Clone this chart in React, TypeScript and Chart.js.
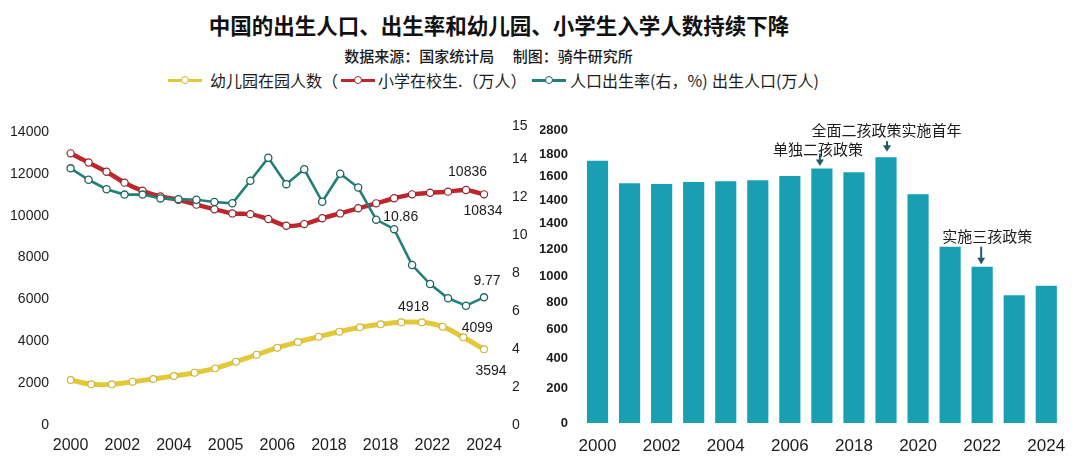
import React, { useEffect, useRef } from 'react';
import { Chart, registerables } from 'chart.js';

Chart.register(...registerables);

// ---------- text ----------
const TITLE = '中国的出生人口、出生率和幼儿园、小学生入学人数持续下降';
const SUBTITLE = '数据来源：国家统计局　 制图：骑牛研究所';
const LEGEND_LABELS = ['幼儿园在园人数（', '小学在校生.（万人）', '人口出生率(右，%)', '出生人口(万人)'];

// ---------- left panel (lines) ----------
const LINE_X_LABELS = ['2000', '2002', '2004', '2005', '2006', '2018', '2018', '2022', '2024'];
const LINE_YEARS = [
  '2001', '2002', '2003', '2004', '2005', '2006', '2007', '2008', '2009', '2010', '2011', '2012',
  '2013', '2014', '2015', '2016', '2017', '2018', '2019', '2020', '2021', '2022', '2023', '2024',
];
const KG_YEARS = [
  '2004', '2005', '2006', '2007', '2008', '2009', '2010', '2011', '2012', '2013', '2014',
  '2015', '2016', '2017', '2018', '2019', '2020', '2021', '2022', '2023', '2024',
];
const PRIMARY_STUDENTS = [
  12980, 12540, 12100, 11580, 11190, 10920, 10760, 10530, 10310, 10110, 10075, 9840,
  9520, 9600, 9880, 10110, 10354, 10590, 10832, 11020, 11100, 11150, 11230, 11020,
];
const BIRTH_RATE = [
  13.51, 12.91, 12.41, 12.13, 12.13, 11.93, 11.89, 11.86, 11.74, 11.67, 12.86, 14.07,
  12.68, 13.46, 11.75, 13.23, 12.5, 10.81, 10.31, 8.42, 7.42, 6.67, 6.28, 6.72,
];
const KINDERGARTEN = [
  2150, 1944, 1944, 2070, 2198, 2341, 2500, 2708, 3024, 3359, 3693,
  3966, 4219, 4458, 4668, 4811, 4907, 4907, 4697, 4190, 3617,
];
const LEFT_Y_TICKS = [0, 2000, 4000, 6000, 8000, 10000, 12000, 14000];
const RATE_TICK_VALUES = [0, 2, 4, 6, 8, 10, 12, 14, 15.74];
const RATE_TICK_LABELS = ['0', '2', '4', '6', '8', '10', '12', '14', '15'];
const LINE_NOTES = [
  { series: 'primary', index: 22, text: '10836', dx: 1.5, dy: -18, align: 'center' },
  { series: 'primary', index: 23, text: '10834', dx: -1, dy: 17, align: 'center' },
  { series: 'rate', index: 17, text: '10.86', dx: 7, dy: -3, align: 'left' },
  { series: 'rate', index: 23, text: '9.77', dx: 3, dy: -16, align: 'center' },
  { series: 'kg', index: 17, text: '4918', dx: -8.5, dy: -15, align: 'center' },
  { series: 'kg', index: 19, text: '4099', dx: 14, dy: -9, align: 'center' },
  { series: 'kg', index: 20, text: '3594', dx: 7, dy: 22, align: 'center' },
];

// ---------- right panel (bars) ----------
const BAR_YEARS = [
  '2000', '2001', '2002', '2003', '2004', '2005', '2006', '2017',
  '2018', '2019', '2020', '2021', '2022', '2023', '2024',
];
const BIRTHS = [1773, 1620, 1615, 1629, 1633, 1640, 1669, 1719, 1694, 1796, 1546, 1191, 1056, 863, 928];
const BAR_TICK_VALUES = [0, 237, 439, 635, 818, 993, 1176, 1352, 1507, 1669, 1818, 1980];
const BAR_TICK_LABELS = ['0', '200', '400', '600', '800', '1000', '1200', '1400', '1400', '1600', '1800', '2800'];
const BAR_NOTES = [
  { index: 7, text: '单独二孩政策', dx: -4, textDy: -19, arrowDx: -2, arrowFrom: -15, arrowTo: -2.5 },
  { index: 9, text: '全面二孩政策实施首年', dx: 0.5, textDy: -27, arrowDx: 1, arrowFrom: -16, arrowTo: -5.5 },
  { index: 12, text: '实施三孩政策', dx: 5, textDy: -30, arrowDx: -1, arrowFrom: -20, arrowTo: -2.5 },
];

// ---------- styles ----------
const YELLOW = '#e3c93a';
const YELLOW_DARK = '#cdb437';
const RED = '#c0252c';
const RED_DARK = '#8e2a2e';
const TEAL = '#22807a';
const TEAL_DARK = '#1c6661';
const BAR_COLOR = '#18a0b2';
const ARROW = '#1f5c63';
const TEXT = '#1c1c1c';
const LATIN = '"Liberation Sans", Arial, "Noto Sans CJK SC", sans-serif';
const CJK = '"Noto Sans CJK SC", "Liberation Sans", sans-serif';

Chart.defaults.font.family = LATIN;
Chart.defaults.color = TEXT;

const lineNotesPlugin = {
  id: 'lineNotes',
  afterDatasetsDraw(chart: any) {
    const ctx = chart.ctx;
    ctx.save();
    ctx.font = `14px ${LATIN}`;
    ctx.fillStyle = TEXT;
    ctx.textBaseline = 'middle';
    LINE_NOTES.forEach((n) => {
      const di = chart.data.datasets.findIndex((d: any) => d.key === n.series);
      if (di < 0) return;
      const pt = chart.getDatasetMeta(di).data[n.index];
      if (!pt) return;
      ctx.textAlign = n.align;
      ctx.fillText(n.text, pt.x + n.dx, pt.y + n.dy);
    });
    ctx.restore();
  },
};

const barNotesPlugin = {
  id: 'barNotes',
  afterDatasetsDraw(chart: any) {
    const ctx = chart.ctx;
    const meta = chart.getDatasetMeta(0);
    ctx.save();
    BAR_NOTES.forEach((n) => {
      const bar = meta.data[n.index];
      if (!bar) return;
      const x = bar.x;
      const top = bar.y;
      ctx.font = `15px ${CJK}`;
      ctx.fillStyle = TEXT;
      ctx.textAlign = 'center';
      ctx.textBaseline = 'middle';
      ctx.fillText(n.text, x + n.dx, top + n.textDy);
      const ax = x + n.arrowDx;
      const tip = top + n.arrowTo;
      ctx.strokeStyle = ARROW;
      ctx.lineWidth = 2;
      ctx.beginPath();
      ctx.moveTo(ax, top + n.arrowFrom);
      ctx.lineTo(ax, tip - 5);
      ctx.stroke();
      ctx.fillStyle = ARROW;
      ctx.beginPath();
      ctx.moveTo(ax - 4, tip - 6.5);
      ctx.lineTo(ax + 4, tip - 6.5);
      ctx.lineTo(ax, tip);
      ctx.closePath();
      ctx.fill();
    });
    ctx.restore();
  },
};

const noGrid = { display: false, drawTicks: false };
const noBorder = { display: false };

// fix an axis' thickness and stop its label padding from pushing the plot area
const fixWidth = (w: number) => (s: any) => {
  s.width = w;
  s.paddingTop = 0;
  s.paddingBottom = 0;
};

function makeLineChart(canvas: HTMLCanvasElement) {
  return new Chart(canvas, {
    type: 'line',
    data: {
      datasets: [
        {
          key: 'rate',
          label: LEGEND_LABELS[2],
          data: BIRTH_RATE,
          xAxisID: 'xLine',
          yAxisID: 'y1',
          borderColor: TEAL,
          borderWidth: 2.6,
          tension: 0,
          pointRadius: 3.6,
          pointBackgroundColor: '#ffffff',
          pointBorderColor: TEAL_DARK,
          pointBorderWidth: 1.3,
          order: 0,
        },
        {
          key: 'primary',
          label: LEGEND_LABELS[1],
          data: PRIMARY_STUDENTS,
          xAxisID: 'xLine',
          yAxisID: 'y',
          borderColor: RED,
          borderWidth: 4.5,
          tension: 0.3,
          pointRadius: 3.6,
          pointBackgroundColor: '#ffffff',
          pointBorderColor: RED_DARK,
          pointBorderWidth: 1.2,
          order: 1,
        },
        {
          key: 'kg',
          label: LEGEND_LABELS[0],
          data: KINDERGARTEN,
          xAxisID: 'xKg',
          yAxisID: 'y',
          borderColor: YELLOW,
          borderWidth: 5,
          tension: 0.4,
          pointRadius: 3.4,
          pointBackgroundColor: '#ffffff',
          pointBorderColor: YELLOW_DARK,
          pointBorderWidth: 1.1,
          order: 2,
        },
      ] as any,
    },
    options: {
      responsive: false,
      animation: false,
      layout: { padding: { top: 16, left: 0, right: 0, bottom: 0 } },
      plugins: { legend: { display: false }, tooltip: { enabled: false } },
      scales: {
        x: {
          type: 'category',
          axis: 'x',
          position: 'bottom',
          labels: LINE_X_LABELS,
          offset: false,
          grid: noGrid,
          border: noBorder,
          ticks: { autoSkip: false, maxRotation: 0, minRotation: 0, padding: 11, color: TEXT, font: { size: 16 } },
          afterFit: (s: any) => { s.height = 45; s.paddingLeft = 0; s.paddingRight = 0; },
        },
        xLine: {
          type: 'category',
          axis: 'x',
          position: 'bottom',
          labels: LINE_YEARS,
          offset: false,
          display: false,
        },
        xKg: {
          type: 'category',
          axis: 'x',
          position: 'bottom',
          labels: KG_YEARS,
          offset: false,
          display: false,
        },
        y: {
          type: 'linear',
          position: 'left',
          min: 0,
          max: 14287,
          grid: noGrid,
          border: noBorder,
          afterBuildTicks: (s: any) => { s.ticks = LEFT_Y_TICKS.map((v) => ({ value: v })); },
          ticks: {
            padding: 21.6,
            color: TEXT,
            font: { size: 14 },
            callback: (_v: any, i: number) => String(LEFT_Y_TICKS[i]),
          },
          afterFit: fixWidth(70.6),
        },
        y1: {
          type: 'linear',
          position: 'right',
          min: 0,
          max: 15.74,
          grid: noGrid,
          border: noBorder,
          afterBuildTicks: (s: any) => { s.ticks = RATE_TICK_VALUES.map((v) => ({ value: v })); },
          ticks: {
            padding: 28,
            color: TEXT,
            font: { size: 14 },
            callback: (_v: any, i: number) => RATE_TICK_LABELS[i],
          },
          afterFit: fixWidth(56),
        },
      } as any,
    },
    plugins: [lineNotesPlugin],
  } as any);
}

function makeBarChart(canvas: HTMLCanvasElement) {
  return new Chart(canvas, {
    type: 'bar',
    data: {
      labels: BAR_YEARS,
      datasets: [
        {
          label: LEGEND_LABELS[3],
          data: BIRTHS,
          backgroundColor: BAR_COLOR,
          borderWidth: 0,
          barPercentage: 0.66,
          categoryPercentage: 1,
        },
      ],
    },
    options: {
      responsive: false,
      animation: false,
      layout: { padding: { top: 20, left: 0, right: 17.7, bottom: 0 } },
      plugins: { legend: { display: false }, tooltip: { enabled: false } },
      scales: {
        x: {
          grid: noGrid,
          border: noBorder,
          ticks: {
            autoSkip: false,
            maxRotation: 0,
            minRotation: 0,
            padding: 13.5,
            color: TEXT,
            font: { size: 17 },
            callback: (_v: any, i: number) => (i % 2 === 0 ? BAR_YEARS[i] : ''),
          },
          afterFit: (s: any) => { s.height = 47; s.paddingLeft = 0; s.paddingRight = 0; },
        },
        y: {
          min: 0,
          max: 1980,
          grid: noGrid,
          border: noBorder,
          afterBuildTicks: (s: any) => { s.ticks = BAR_TICK_VALUES.map((v) => ({ value: v })); },
          ticks: {
            padding: 13.5,
            color: TEXT,
            font: { size: 13, weight: 'bold' },
            callback: (_v: any, i: number) => BAR_TICK_LABELS[i],
          },
          afterFit: fixWidth(41.5),
        },
      } as any,
    },
    plugins: [barNotesPlugin],
  } as any);
}

function LegendMarker({ left, color, border }: { left: number; color: string; border: string }) {
  return (
    <div style={{ position: 'absolute', left, top: 73, width: 34, height: 14 }}>
      <div style={{ position: 'absolute', left: 0, top: 5.5, width: 34, height: 3, background: color }} />
      <div
        style={{
          position: 'absolute', left: 12.5, top: 2.5, width: 6, height: 6,
          borderRadius: '50%', background: '#fff', border: `1.5px solid ${border}`,
        }}
      />
    </div>
  );
}

const legendText: React.CSSProperties = {
  position: 'absolute', top: 72, fontSize: 16, lineHeight: '16px', whiteSpace: 'nowrap', color: TEXT,
};

export default function App() {
  const leftRef = useRef<HTMLCanvasElement>(null);
  const rightRef = useRef<HTMLCanvasElement>(null);

  useEffect(() => {
    const left = makeLineChart(leftRef.current!);
    const right = makeBarChart(rightRef.current!);
    return () => {
      left.destroy();
      right.destroy();
    };
  }, []);

  return (
    <div
      style={{
        position: 'absolute', left: 0, top: 0, width: 1080, height: 475,
        background: '#ffffff', overflow: 'hidden', fontFamily: CJK, color: TEXT,
      }}
    >
      <div
        style={{
          position: 'absolute', left: 499, top: 14, transform: 'translateX(-50%)',
          fontSize: 21.5, lineHeight: '22px', fontWeight: 700, whiteSpace: 'nowrap', color: '#111',
        }}
      >
        {TITLE}
      </div>
      <div
        style={{
          position: 'absolute', left: 488.5, top: 47.5, transform: 'translateX(-50%)',
          fontSize: 15, lineHeight: '15px', fontWeight: 500, whiteSpace: 'nowrap',
        }}
      >
        {SUBTITLE}
      </div>
      <LegendMarker left={168} color={YELLOW} border={YELLOW_DARK} />
      <div style={{ ...legendText, left: 210 }}>{LEGEND_LABELS[0]}</div>
      <LegendMarker left={341} color={RED} border={RED_DARK} />
      <div style={{ ...legendText, left: 378 }}>{LEGEND_LABELS[1]}</div>
      <LegendMarker left={532} color={TEAL} border={TEAL_DARK} />
      <div style={{ ...legendText, left: 570 }}>{LEGEND_LABELS[2]}</div>
      <div style={{ ...legendText, left: 712 }}>{LEGEND_LABELS[3]}</div>

      <canvas ref={leftRef} width={540} height={360} style={{ position: 'absolute', left: 0, top: 110, width: 540, height: 360 }} />
      <canvas ref={rightRef} width={540} height={360} style={{ position: 'absolute', left: 540, top: 110, width: 540, height: 360 }} />
    </div>
  );
}
